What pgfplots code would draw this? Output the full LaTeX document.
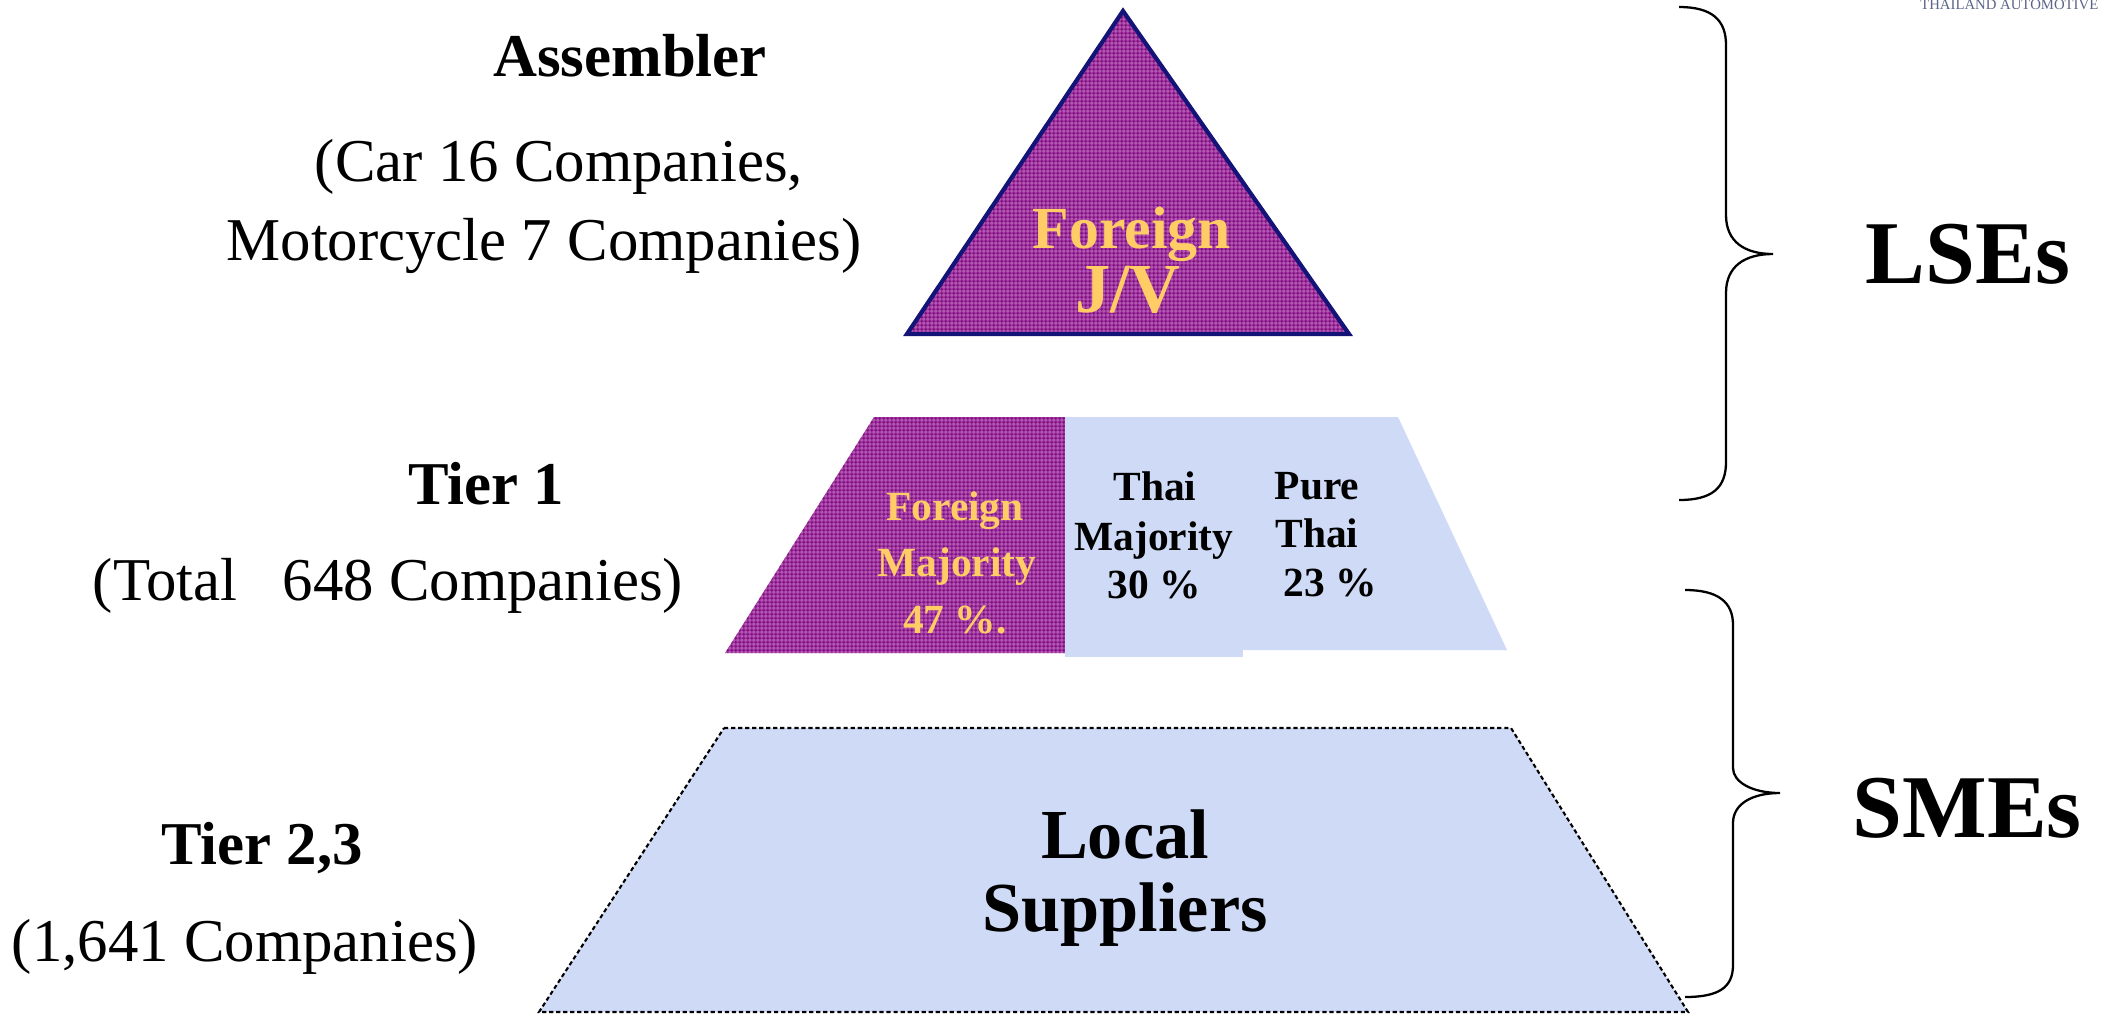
\documentclass[border=0pt]{standalone}
\usepackage{fontspec}
\setmainfont{Liberation Serif}
\usepackage{pgfplots}
\pgfplotsset{compat=1.18}
\usetikzlibrary{patterns}
\pgfdeclarepatternformonly{finegrid}{\pgfpointorigin}{\pgfqpoint{1.1pt}{1.1pt}}{\pgfqpoint{1.1pt}{1.1pt}}{%
  \pgfsetlinewidth{0.35pt}%
  \pgfpathmoveto{\pgfqpoint{0pt}{0.55pt}}\pgfpathlineto{\pgfqpoint{1.1pt}{0.55pt}}%
  \pgfpathmoveto{\pgfqpoint{0.55pt}{0pt}}\pgfpathlineto{\pgfqpoint{0.55pt}{1.1pt}}%
  \pgfusepath{stroke}}
\definecolor{purp}{RGB}{178,88,178}
\definecolor{purpdark}{RGB}{128,8,128}
\definecolor{lblue}{RGB}{207,219,246}
\definecolor{gold}{RGB}{255,204,102}
\definecolor{navy}{RGB}{20,20,120}
\definecolor{logo}{RGB}{90,100,135}
\newcommand{\lab}{\fontsize{17.3}{20}\selectfont}
\begin{document}
\begin{tikzpicture}
\begin{axis}[scale only axis, width=21.01cm, height=10.15cm,
  xmin=0, xmax=2101, ymin=0, ymax=1015, y dir=reverse,
  axis lines=none, clip=false]
% Assembler triangle
\addplot[fill=purp, draw=none] coordinates {(1123,11) (907,334) (1349,334)} --cycle;
\addplot[pattern=finegrid, pattern color=purpdark, draw=navy, line width=1.2pt, line join=miter] coordinates {(1123,11) (907,334) (1349,334)} --cycle;
% Tier 1
\addplot[fill=purp, draw=none] coordinates {(874,417) (1065,417) (1065,653) (725,653)} --cycle;
\addplot[pattern=finegrid, pattern color=purpdark, draw=none] coordinates {(874,417) (1065,417) (1065,653) (725,653)} --cycle;
\addplot[fill=lblue, draw=none] coordinates {(1065,417) (1243,417) (1243,657) (1065,657)} --cycle;
\addplot[fill=lblue, draw=none] coordinates {(1243,417) (1398,417) (1507,650) (1243,650)} --cycle;
% Tier 2,3
\addplot[fill=lblue, draw=black, line width=0.6pt, dash pattern=on 1.2pt off 0.8pt] coordinates {(724,728) (1511,728) (1688,1012) (539,1012)} --cycle;

% braces
\draw[line width=0.65pt] (axis cs:1679,7) .. controls (axis cs:1712,7) and (axis cs:1726,20) .. (axis cs:1726,45)
  -- (axis cs:1726,215) .. controls (axis cs:1726,242) and (axis cs:1745,254) .. (axis cs:1773,254)
  .. controls (axis cs:1745,254) and (axis cs:1726,266) .. (axis cs:1726,293)
  -- (axis cs:1726,462) .. controls (axis cs:1726,488) and (axis cs:1712,500) .. (axis cs:1679,500);
\draw[line width=0.65pt] (axis cs:1685,590) .. controls (axis cs:1718,590) and (axis cs:1733,602) .. (axis cs:1733,625)
  -- (axis cs:1733,768) .. controls (axis cs:1733,782) and (axis cs:1752,793) .. (axis cs:1780,793)
  .. controls (axis cs:1752,793) and (axis cs:1733,804) .. (axis cs:1733,823)
  -- (axis cs:1733,965) .. controls (axis cs:1733,988) and (axis cs:1718,997) .. (axis cs:1685,997);

% left labels
\node[anchor=base, font=\lab\bfseries] at (axis cs:630,76) {Assembler};
\node[anchor=base, font=\lab] at (axis cs:559,181) {(Car 16 Companies,};
\node[anchor=base, font=\lab] at (axis cs:544,260) {Motorcycle 7 Companies)};
\node[anchor=base, font=\lab\bfseries] at (axis cs:486,504) {Tier 1};
\node[anchor=base, font=\lab] at (axis cs:388,600) {(Total\ \ \ 648 Companies)};
\node[anchor=base, font=\lab\bfseries] at (axis cs:262,864) {Tier 2,3};
\node[anchor=base, font=\lab] at (axis cs:245,961) {(1,641 Companies)};

% triangle text
\node[anchor=base, font=\fontsize{17}{20}\selectfont\bfseries, text=gold] at (axis cs:1132,248) {Foreign};
\node[anchor=base, font=\fontsize{20}{22}\selectfont\bfseries, text=gold] at (axis cs:1128,312) {J/V};

% tier 1 texts
\node[anchor=base, font=\fontsize{11.8}{14}\selectfont\bfseries, text=gold] at (axis cs:955,520) {Foreign};
\node[anchor=base, font=\fontsize{11.8}{14}\selectfont\bfseries, text=gold] at (axis cs:957,576) {Majority};
\node[anchor=base, font=\fontsize{11.8}{14}\selectfont\bfseries, text=gold] at (axis cs:955,633) {47 \%.};
\node[anchor=base, font=\fontsize{11.8}{14}\selectfont\bfseries] at (axis cs:1155,500) {Thai};
\node[anchor=base, font=\fontsize{11.8}{14}\selectfont\bfseries] at (axis cs:1154,550) {Majority};
\node[anchor=base, font=\fontsize{11.8}{14}\selectfont\bfseries] at (axis cs:1154,598) {30 \%};
\node[anchor=base, font=\fontsize{11.8}{14}\selectfont\bfseries] at (axis cs:1317,499) {Pure};
\node[anchor=base, font=\fontsize{11.8}{14}\selectfont\bfseries] at (axis cs:1317,547) {Thai};
\node[anchor=base, font=\fontsize{11.8}{14}\selectfont\bfseries] at (axis cs:1330,596) {23 \%};

% tier 2,3 text
\node[anchor=base, font=\fontsize{20}{24}\selectfont\bfseries] at (axis cs:1125,858) {Local};
\node[anchor=base, font=\fontsize{20}{24}\selectfont\bfseries] at (axis cs:1125,931) {Suppliers};

% right labels
\node[anchor=base west, inner sep=0pt, font=\fontsize{25.5}{30}\selectfont\bfseries] at (axis cs:1865,283) {LSEs};
\node[anchor=base west, inner sep=0pt, font=\fontsize{25.5}{30}\selectfont\bfseries] at (axis cs:1852,837) {SMEs};

% logo text
\node[anchor=base east, inner sep=0pt, font=\fontsize{4.2}{5}\selectfont, text=logo] at (axis cs:2099,9) {THAILAND AUTOMOTIVE};
\end{axis}
\pgfresetboundingbox
\path[use as bounding box] (current axis.south west) rectangle (current axis.north east);
\end{tikzpicture}
\end{document}
